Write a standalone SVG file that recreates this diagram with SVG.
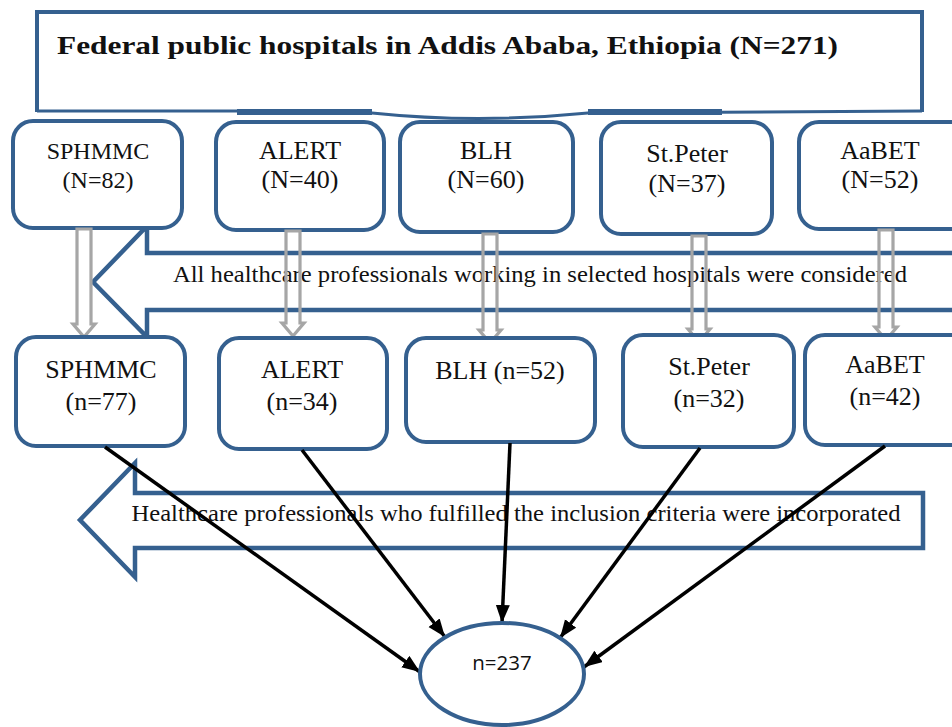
<svg xmlns="http://www.w3.org/2000/svg" width="952" height="727" viewBox="0 0 952 727">
<style>
.box{fill:#fff;stroke:#35608f;stroke-width:4}
.blk{fill:none;stroke:#35608f;stroke-width:4.5;stroke-linejoin:miter}
.t{font-family:"Liberation Serif","Times New Roman",serif;font-size:26px;fill:#111;text-anchor:middle}
.gray{fill:none;stroke:#a6a6a6;stroke-width:3.2}
.conn{stroke:#000;stroke-width:3.5;fill:none}
</style>
<defs>
<marker id="ah" markerUnits="userSpaceOnUse" markerWidth="20" markerHeight="16" refX="18" refY="7" orient="auto">
<path d="M0,0 L18,7 L0,14 Z" fill="#000"/>
</marker>
</defs>
<rect width="952" height="727" fill="#fff"/>

<g id="top">
<path d="M37,112 L37,12 L922,12 L922,112" fill="#fff" stroke="#35608f" stroke-width="4"/>
<path d="M37,111 L237,111 L372,113 Q477,124 588,113 L922,111" fill="none" stroke="#35608f" stroke-width="3"/>
<path d="M237,112 L372,112" stroke="#35608f" stroke-width="6"/>
<path d="M588,112 L722,112" stroke="#35608f" stroke-width="6"/>
<text x="57" y="54" font-family="Liberation Serif,'Times New Roman',serif" font-size="26" font-weight="bold" fill="#111" textLength="781" lengthAdjust="spacingAndGlyphs">Federal public hospitals in Addis Ababa, Ethiopia (N=271)</text>
</g>

<g id="arrow1">
<polygon class="blk" points="960,253 147,253 147,226 93,282 147,337 147,310 960,310"/>
<text x="540" y="282" font-family="Liberation Serif,'Times New Roman',serif" font-size="23" fill="#111" text-anchor="middle" textLength="734" lengthAdjust="spacingAndGlyphs">All healthcare professionals working in selected hospitals were considered</text>
</g>

<g id="arrow2">
<polygon class="blk" points="923,493 135,493 135,463 80,520 135,577 135,548 923,548"/>
<text x="516" y="521" font-family="Liberation Serif,'Times New Roman',serif" font-size="23" fill="#111" text-anchor="middle" textLength="769" lengthAdjust="spacingAndGlyphs">Healthcare professionals who fulfilled the inclusion criteria were incorporated</text>
</g>

<g id="r1-sphmmc"><rect class="box" x="13" y="121" width="169" height="107" rx="20"/><text class="t" x="98" y="159" style="font-size:24px">SPHMMC</text><text class="t" x="98" y="188" style="font-size:24px">(N=82)</text></g>
<g id="r1-alert"><rect class="box" x="216" y="122" width="168" height="108" rx="20"/><text class="t" x="300" y="159">ALERT</text><text class="t" x="300" y="188">(N=40)</text></g>
<g id="r1-blh"><rect class="box" x="400" y="122" width="173" height="110" rx="20"/><text class="t" x="486" y="159">BLH</text><text class="t" x="486" y="188">(N=60)</text></g>
<g id="r1-stpeter"><rect class="box" x="601" y="122" width="171" height="112" rx="20"/><text class="t" x="687" y="162">St.Peter</text><text class="t" x="687" y="192">(N=37)</text></g>
<g id="r1-aabet"><rect class="box" x="799" y="122" width="175" height="107" rx="20"/><text class="t" x="880" y="159">AaBET</text><text class="t" x="880" y="188">(N=52)</text></g>

<g id="gray-arrows">
<polygon class="gray" points="77,229 91,229 91,324 95,324 84,337 73,324 77,324"/>
<polygon class="gray" points="286,231 300,231 300,323 304,323 293,336 282,323 286,323"/>
<polygon class="gray" points="483,234 497,234 497,330 501,330 490,343 479,330 483,330"/>
<polygon class="gray" points="692,236 706,236 706,329 710,329 699,342 688,329 692,329"/>
<polygon class="gray" points="879,230 893,230 893,327 897,327 886,340 875,327 879,327"/>
</g>

<g id="r2-sphmmc"><rect class="box" x="16" y="337" width="169" height="109" rx="20"/><text class="t" x="101" y="378">SPHMMC</text><text class="t" x="101" y="410">(n=77)</text></g>
<g id="r2-alert"><rect class="box" x="219" y="338" width="168" height="111" rx="20"/><text class="t" x="302" y="378">ALERT</text><text class="t" x="302" y="410">(n=34)</text></g>
<g id="r2-blh"><rect class="box" x="406" y="338" width="189" height="104" rx="20"/><text class="t" x="500" y="379">BLH (n=52)</text></g>
<g id="r2-stpeter"><rect class="box" x="623" y="335" width="171" height="112" rx="20"/><text class="t" x="709" y="375">St.Peter</text><text class="t" x="709" y="407">(n=32)</text></g>
<g id="r2-aabet"><rect class="box" x="805" y="335" width="175" height="110" rx="20"/><text class="t" x="885" y="373">AaBET</text><text class="t" x="885" y="405">(n=42)</text></g>

<g id="connectors">
<line class="conn" x1="105" y1="447" x2="420" y2="672" marker-end="url(#ah)"/>
<line class="conn" x1="302" y1="450" x2="445" y2="637" marker-end="url(#ah)"/>
<line class="conn" x1="510" y1="443" x2="502" y2="623" marker-end="url(#ah)"/>
<line class="conn" x1="700" y1="448" x2="560" y2="638" marker-end="url(#ah)"/>
<line class="conn" x1="885" y1="446" x2="584" y2="667" marker-end="url(#ah)"/>
</g>

<g id="total">
<ellipse cx="502" cy="674" rx="82" ry="51" fill="#fff" stroke="#35608f" stroke-width="4"/>
<text x="502" y="670" font-family="'Open Sans','Liberation Sans',sans-serif" font-size="20.5" fill="#111" text-anchor="middle">n=237</text>
</g>
</svg>
